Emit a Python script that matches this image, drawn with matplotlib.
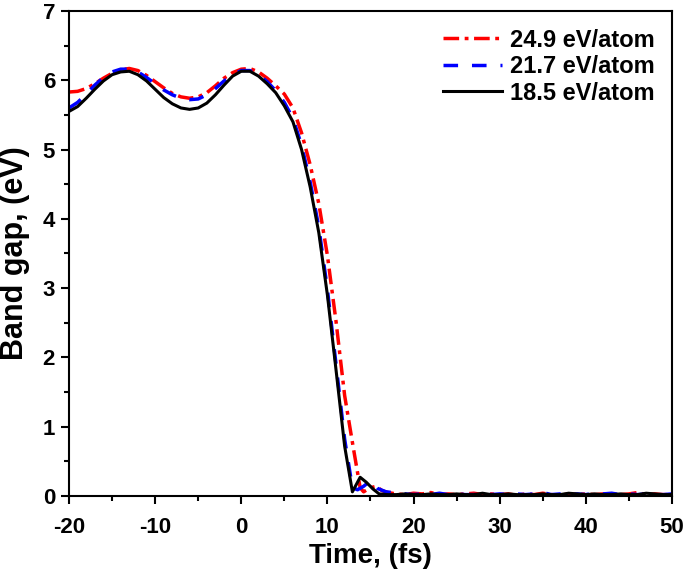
import numpy as np
import matplotlib.pyplot as plt
from matplotlib.ticker import MultipleLocator

plt.rcParams['font.family'] = ['Liberation Sans', 'DejaVu Sans']
plt.rcParams['font.weight'] = 'bold'
plt.rcParams['axes.unicode_minus'] = False

# time axis (fs), shared by the smooth part of all curves
t_head = [-20, -19, -18, -17, -16, -15, -14, -13, -12, -11, -10, -9, -8, -7, -6,
          -5, -4, -3, -2, -1, 0, 1, 2, 3, 4, 5, 6, 7, 8, 9, 10, 11, 12]
t_tail = [18, 19, 20, 21, 22, 23, 24, 25, 26, 27, 28, 29, 30, 31, 32, 33, 34,
          35, 36, 37, 38, 39, 40, 41, 42, 43, 44, 45, 46, 47, 48, 49, 50]

# 24.9 eV/atom
red_head = [5.83, 5.84, 5.88, 5.95, 6.03, 6.10, 6.15, 6.17, 6.14, 6.07, 5.98, 5.89,
            5.81, 5.76, 5.74, 5.76, 5.82, 5.92, 6.03, 6.11, 6.16, 6.17, 6.12, 6.03,
            5.92, 5.80, 5.60, 5.24, 4.78, 4.22, 3.47, 2.52, 1.45]
red_drop_t = [13, 13.8, 14.2, 15, 15.7, 16.3, 17]
red_drop = [0.70, 0.12, 0.06, 0.12, 0.14, 0.08, 0.05]
red_tail = [0.03, 0.02, 0.04, 0.03, 0.05, 0.02, 0.03, 0.02, 0.03, 0.04, 0.02, 0.03,
            0.02, 0.03, 0.01, 0.03, 0.02, 0.04, 0.02, 0.01, 0.03, 0.02, 0.03, 0.02,
            0.03, 0.02, 0.02, 0.03, 0.05, 0.02, 0.03, 0.02, 0.02]

# 21.7 eV/atom
blue_head = [5.60, 5.68, 5.80, 5.93, 6.04, 6.12, 6.16, 6.16, 6.12, 6.04, 5.95, 5.86,
             5.79, 5.74, 5.72, 5.73, 5.79, 5.88, 5.99, 6.08, 6.14, 6.14, 6.08, 5.98,
             5.85, 5.68, 5.45, 5.06, 4.53, 3.88, 2.98, 1.90, 0.82]
blue_drop_t = [12.9, 13.5, 14.2, 15, 15.8, 16.8, 17.5]
blue_drop = [0.12, 0.09, 0.14, 0.22, 0.11, 0.06, 0.05]
blue_tail = [0.04, 0.03, 0.02, 0.03, 0.02, 0.04, 0.02, 0.03, 0.02, 0.02, 0.03, 0.02,
             0.03, 0.02, 0.03, 0.02, 0.03, 0.05, 0.02, 0.03, 0.02, 0.03, 0.02, 0.04,
             0.03, 0.04, 0.02, 0.03, 0.02, 0.03, 0.02, 0.02, 0.03]

# 18.5 eV/atom
black_head = [5.55, 5.62, 5.74, 5.87, 5.99, 6.08, 6.12, 6.13, 6.08, 5.99, 5.87, 5.75,
              5.66, 5.60, 5.58, 5.60, 5.67, 5.79, 5.93, 6.06, 6.13, 6.13, 6.06, 5.95,
              5.82, 5.63, 5.40, 5.00, 4.46, 3.80, 2.90, 1.82, 0.72]
black_drop_t = [12.9, 13.8, 14.5, 15.3, 16, 17]
black_drop = [0.06, 0.27, 0.20, 0.10, 0.03, 0.02]
black_tail = [0.02, 0.03, 0.02, 0.02, 0.03, 0.02, 0.02, 0.03, 0.02, 0.02, 0.04, 0.02,
              0.02, 0.03, 0.02, 0.02, 0.02, 0.03, 0.02, 0.02, 0.04, 0.03, 0.02, 0.03,
              0.02, 0.02, 0.03, 0.02, 0.02, 0.04, 0.03, 0.02, 0.02]

labels = ['24.9 eV/atom', '21.7 eV/atom', '18.5 eV/atom']

fig = plt.figure(figsize=(6.85, 5.77), dpi=100)
ax = fig.add_axes([0.1007, 0.1404, 0.8803, 0.8406])

ax.plot(t_head + red_drop_t + t_tail, red_head + red_drop + red_tail,
        color='#ff0000', lw=2.5, dashes=(4.5, 1.6, 1.1, 1.6), label=labels[0])
ax.plot(t_head + blue_drop_t + t_tail, blue_head + blue_drop + blue_tail,
        color='#0000ff', lw=2.5, dashes=(4.2, 4.0), label=labels[1])
ax.plot(t_head + black_drop_t + t_tail, black_head + black_drop + black_tail,
        color='black', lw=2.2, label=labels[2])

ax.set_xlim(-20, 50)
ax.set_ylim(0, 7)
ax.xaxis.set_major_locator(MultipleLocator(10))
ax.xaxis.set_minor_locator(MultipleLocator(5))
ax.yaxis.set_major_locator(MultipleLocator(1))
ax.yaxis.set_minor_locator(MultipleLocator(0.5))
ax.tick_params(which='major', direction='out', length=6, width=1.5, labelsize=16)
ax.tick_params(which='minor', direction='out', length=3.5, width=1.5)
ax.tick_params(axis='x', which='major', pad=9)
ax.tick_params(axis='y', which='major', pad=4)
for s in ax.spines.values():
    s.set_linewidth(1.5)

ax.set_xlabel('Time, (fs)', fontsize=20, fontweight='bold', labelpad=4)
ax.set_ylabel('Band gap, (eV)', fontsize=22, fontweight='bold', labelpad=9)

leg = ax.legend(loc='upper right', frameon=False, fontsize=17, handlelength=2.5,
                handletextpad=0.3, labelspacing=0.15, borderaxespad=0.35)

fig.savefig('out.png', dpi=100)
